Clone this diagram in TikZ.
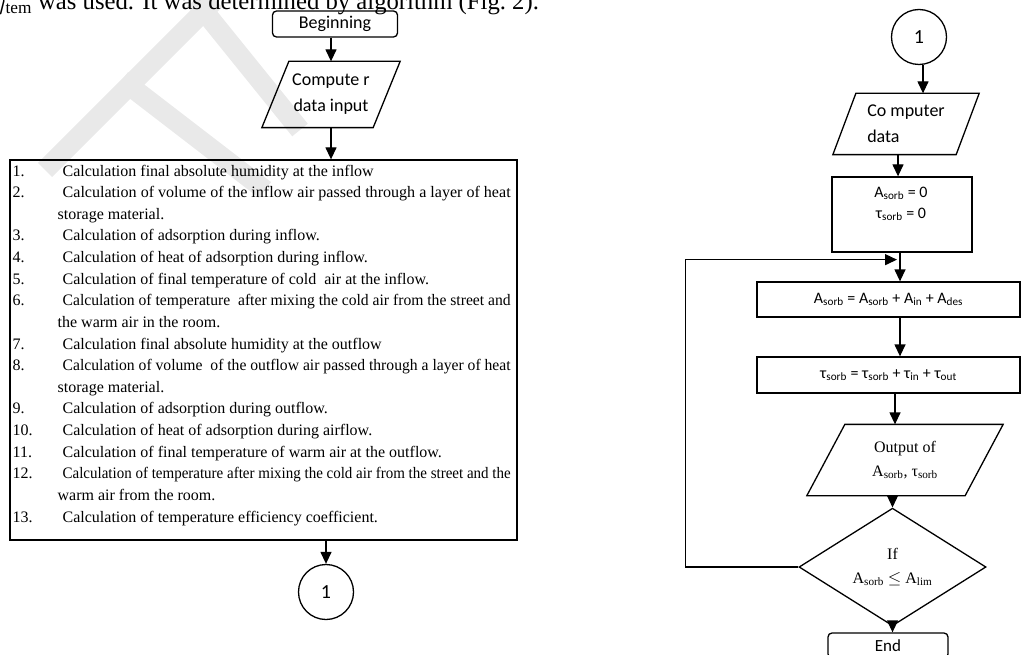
\documentclass[tikz,border=0pt]{standalone}
\usepackage{fontspec}
\setmainfont{Liberation Serif}
\newfontfamily\chartfont{Carlito}
\usetikzlibrary{shapes.geometric,arrows.meta,positioning,calc}

% stretch the first line of a wrapped step to the right edge
\newcommand{\fullline}[1]{\resizebox{448pt}{\height}{#1}}
% slanted outline round a data node: #1 node, #2 half of the slant
\newcommand{\ioframe}[2]{\draw ($(#1.south west)+(-#2,0)$) -- ($(#1.north west)+(#2,0)$)
  -- ($(#1.north east)+(#2,0)$) -- ($(#1.south east)+(-#2,0)$) -- cycle;}

\tikzset{
  termbox/.style={draw, rounded corners=4pt, inner sep=0pt, font=\chartfont\fontsize{18}{20}\selectfont},
  iobox/.style={inner sep=0pt, align=center},
  procbox/.style={draw, inner sep=0pt},
  decision/.style={draw, diamond, inner sep=0pt, align=center},
  joint/.style={draw, circle, minimum size=55pt, inner sep=0pt, font=\chartfont\fontsize{20}{20}\selectfont},
  stepline/.style={anchor=base west, inner sep=0pt, font=\fontsize{16}{19}\selectfont},
  formula/.style={inner sep=0pt, font=\chartfont\fontsize{16}{21}\selectfont, align=center},
  stamp/.style={gray!17, line width=20pt},
}

\begin{document}
\begin{tikzpicture}[x=1pt,y=-1pt, line width=1.3pt, >={Triangle[length=12pt,width=11pt]}]
  \useasboundingbox (0,0) rectangle (1035,655);
  \clip (0,0) rectangle (1035,655);

  % faint watermark strokes
  \draw[stamp] (45,170) -- (215,0);
  \draw[stamp] (122,80) -- (265,190);
  \draw[stamp] (195,0) -- (300,130);

  % line of running text cut at the top
  \node[anchor=base west, inner sep=0pt, font=\fontsize{24.7}{26}\selectfont] (caption) at (-8,9.5)
    {$\eta$\textsubscript{tem} was used. It was determined by algorithm (Fig.~2).};

  % left chart
  \node[termbox, minimum width=125pt, minimum height=26pt] (begin) at (335,24) {Beginning};
  \node[iobox, minimum width=110pt, minimum height=65pt, font=\chartfont\fontsize{18}{26}\selectfont]
    (input) at (331,94.5) {Compute r\\data input};
  \ioframe{input}{13.5}
  \node[procbox, minimum width=507pt, minimum height=380pt] (steps) at (263.5,350) {};
  \node[joint] (jointA) at (326,592) {1};

  \node[stepline] (n1) at (12,176) {1.};
  \node[stepline] (s1) at (62,176) {Calculation final absolute humidity at the inflow};
  \node[stepline] (n2) at (12,197.6) {2.};
  \node[stepline] (s2) at (62,197.6) {\fullline{Calculation of volume of the inflow air passed through a layer of heat}};
  \node[stepline] (s2b) at (57,219.3) {storage material.};
  \node[stepline] (n3) at (12,240.9) {3.};
  \node[stepline] (s3) at (62,240.9) {Calculation of adsorption during inflow.};
  \node[stepline] (n4) at (12,262.5) {4.};
  \node[stepline] (s4) at (62,262.5) {Calculation of heat of adsorption during inflow.};
  \node[stepline] (n5) at (12,284.1) {5.};
  \node[stepline] (s5) at (62,284.1) {Calculation of final temperature of cold \ air at the inflow.};
  \node[stepline] (n6) at (12,305.8) {6.};
  \node[stepline] (s6) at (62,305.8) {\fullline{Calculation of temperature \ after mixing the cold air from the street and}};
  \node[stepline] (s6b) at (57,327.4) {the warm air in the room.};
  \node[stepline] (n7) at (12,349) {7.};
  \node[stepline] (s7) at (62,349) {Calculation final absolute humidity at the outflow};
  \node[stepline] (n8) at (12,370.6) {8.};
  \node[stepline] (s8) at (62,370.6) {\fullline{Calculation of volume \ of the outflow air passed through a layer of heat}};
  \node[stepline] (s8b) at (57,392.3) {storage material.};
  \node[stepline] (n9) at (12,413.9) {9.};
  \node[stepline] (s9) at (62,413.9) {Calculation of adsorption during outflow.};
  \node[stepline] (n10) at (12,435.5) {10.};
  \node[stepline] (s10) at (62,435.5) {Calculation of heat of adsorption during airflow.};
  \node[stepline] (n11) at (12,457.1) {11.};
  \node[stepline] (s11) at (62,457.1) {Calculation of final temperature of warm air at the outflow.};
  \node[stepline] (n12) at (12,478.8) {12.};
  \node[stepline] (s12) at (62,478.8) {\fullline{Calculation of temperature after mixing the cold air from the street and the}};
  \node[stepline] (s12b) at (57,500.4) {warm air from the room.};
  \node[stepline] (n13) at (12,522) {13.};
  \node[stepline] (s13) at (62,522) {Calculation of temperature efficiency coefficient.};

  \draw[->] (begin.south -| input.north) -- (input.north);
  \draw[->] (input.south) -- (input.south |- steps.north);
  \draw[->] (steps.south -| jointA) -- (jointA);

  % right chart
  \node[joint] (jointB) at (919,37) {1};
  \node[iobox, minimum width=122pt, minimum height=60pt, font=\chartfont\fontsize{18}{26}\selectfont, align=left]
    (cdata) at (906,124) {Co mputer\\data};
  \ioframe{cdata}{11.5}
  \node[procbox, minimum width=140pt, minimum height=75pt] (init) at (902,214.5) {};
  \node[formula] (inittext) at (901,204) {A\textsubscript{sorb} = 0\\τ\textsubscript{sorb} = 0};
  \node[procbox, minimum width=263pt, minimum height=35pt, formula] (sumA) at (888.5,299.5)
    {A\textsubscript{sorb} = A\textsubscript{sorb} + A\textsubscript{in} + A\textsubscript{des}};
  \node[procbox, minimum width=263pt, minimum height=36pt, formula] (sumT) at (888.5,375)
    {τ\textsubscript{sorb} = τ\textsubscript{sorb} + τ\textsubscript{in} + τ\textsubscript{out}};
  \node[iobox, minimum width=157pt, minimum height=70pt, font=\fontsize{16}{24}\selectfont]
    (result) at (905,460) {Output of\\A\textsubscript{sorb}, τ\textsubscript{sorb}};
  \ioframe{result}{19}
  \node[decision, minimum width=187pt, minimum height=82pt, font=\fontsize{16}{24}\selectfont] (check) at (892.5,567)
    {If\\A\textsubscript{sorb} $\leq$ A\textsubscript{lim}};
  \node[termbox, minimum width=120pt, minimum height=25pt, font=\chartfont\fontsize{17}{19}\selectfont] (stop) at (888,645.5) {End};
  \coordinate (merge) at ($(init.south)+(-5,7)$);

  \draw[->] (jointB.south -| 923,0) -- (cdata.north -| 923,0);
  \draw[->] (cdata.south -| 898,0) -- (init.north -| 898,0);
  \draw[->] (init.south -| 900,0) -- (sumA.north -| 900,0);
  \draw[->] (sumA.south -| 900,0) -- (sumT.north -| 900,0);
  \draw[->] (sumT.south -| 895,0) -- (result.north -| 895,0);
  \draw[->] (result.south -| check.north) -- (check.north);
  \draw[->] (check.south) -- (stop.north -| check.south);
  \draw[->] (check.west) -- ++(-113,0) |- (merge);
\end{tikzpicture}
\end{document}
